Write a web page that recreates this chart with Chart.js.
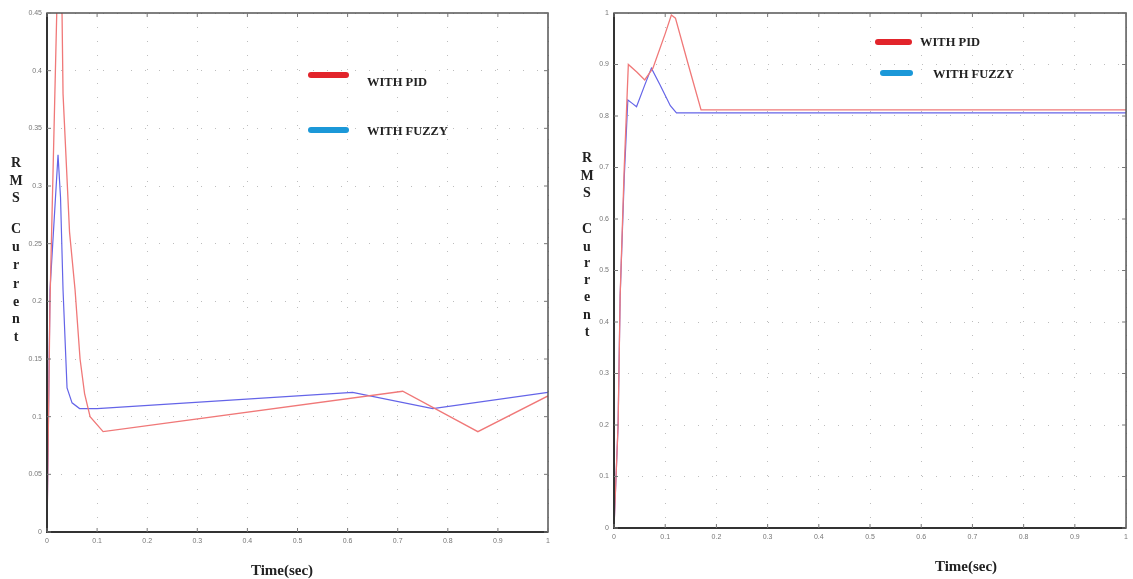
<!DOCTYPE html>
<html>
<head>
<meta charset="utf-8">
<script src="https://cdn.jsdelivr.net/npm/chart.js@4/dist/chart.umd.min.js"></script>
<style>
  html, body { margin: 0; padding: 0; background: #fff; }
  #wrap { position: relative; width: 1133px; height: 579px; }
  #leftChart { position: absolute; left: 0; top: 0; }
  #rightChart { position: absolute; left: 566px; top: 0; }
</style>
</head>
<body>
<div id="wrap">
  <canvas id="leftChart" width="566" height="579"></canvas>
  <canvas id="rightChart" width="567" height="579"></canvas>
</div>
<script>
// Shared x axis ticks
const xTicks = [0, 0.1, 0.2, 0.3, 0.4, 0.5, 0.6, 0.7, 0.8, 0.9, 1];
const xTickLabels = ['0', '0.1', '0.2', '0.3', '0.4', '0.5', '0.6', '0.7', '0.8', '0.9', '1'];

// Left chart
const leftYTicks = [0, 0.05, 0.1, 0.15, 0.2, 0.25, 0.3, 0.35, 0.4, 0.45];
const leftYTickLabels = ['0', '0.05', '0.1', '0.15', '0.2', '0.25', '0.3', '0.35', '0.4', '0.45'];
const leftPidTime = [0, 0.003, 0.006, 0.02, 0.022, 0.03, 0.032, 0.045, 0.056, 0.066, 0.075, 0.086, 0.112, 0.71, 0.86, 1];
const leftPid = [0, 0.1, 0.2, 0.46, 0.47, 0.45, 0.38, 0.26, 0.21, 0.15, 0.12, 0.1, 0.087, 0.122, 0.087, 0.118];
const leftFuzzyTime = [0, 0.003, 0.006, 0.022, 0.027, 0.032, 0.04, 0.05, 0.065, 0.1, 0.61, 0.77, 1];
const leftFuzzy = [0, 0.1, 0.21, 0.327, 0.29, 0.21, 0.125, 0.112, 0.107, 0.107, 0.121, 0.107, 0.121];

// Right chart
const rightYTicks = [0, 0.1, 0.2, 0.3, 0.4, 0.5, 0.6, 0.7, 0.8, 0.9, 1];
const rightYTickLabels = ['0', '0.1', '0.2', '0.3', '0.4', '0.5', '0.6', '0.7', '0.8', '0.9', '1'];
const rightPidTime = [0, 0.008, 0.012, 0.02, 0.028, 0.045, 0.06, 0.076, 0.1, 0.112, 0.12, 0.145, 0.17, 1];
const rightPid = [0, 0.2, 0.45, 0.7, 0.9, 0.885, 0.87, 0.893, 0.96, 0.996, 0.99, 0.9, 0.812, 0.812];
const rightFuzzyTime = [0, 0.008, 0.012, 0.02, 0.027, 0.035, 0.044, 0.06, 0.073, 0.09, 0.11, 0.122, 1];
const rightFuzzy = [0, 0.2, 0.45, 0.68, 0.831, 0.825, 0.818, 0.86, 0.893, 0.86, 0.82, 0.806, 0.806];

const seriesNames = ['WITH PID', 'WITH FUZZY'];
const yLetters = ['R', 'M', 'S', '', 'C', 'u', 'r', 'r', 'e', 'n', 't'];

const pidColor = 'rgb(240,120,120)';
const fuzzyColor = 'rgb(100,100,232)';
const pidLegend = '#e2242b';
const fuzzyLegend = '#1b98d8';

function toPoints(xs, ys) {
  return xs.map((x, i) => ({ x: x, y: ys[i] }));
}

// Extra text, legend swatches and the boxed frame with inward ticks
const annotPlugin = {
  id: 'annot',
  afterDraw(chart, args, opts) {
    const ctx = chart.ctx;
    const area = chart.chartArea;
    const xs = chart.scales.x, ys = chart.scales.y;
    ctx.save();
    // frame
    ctx.strokeStyle = '#555';
    ctx.lineWidth = 1.5;
    ctx.strokeRect(area.left, area.top, area.right - area.left, area.bottom - area.top);
    ctx.strokeStyle = '#333';
    ctx.lineWidth = 2;
    ctx.beginPath();
    ctx.moveTo(area.left, area.top);
    ctx.lineTo(area.left, area.bottom);
    ctx.lineTo(area.right, area.bottom);
    ctx.stroke();
    // inward tick marks
    ctx.strokeStyle = '#777';
    ctx.lineWidth = 1;
    ctx.beginPath();
    xs.ticks.forEach(t => {
      const px = xs.getPixelForValue(t.value);
      ctx.moveTo(px, area.bottom); ctx.lineTo(px, area.bottom - 4);
      ctx.moveTo(px, area.top); ctx.lineTo(px, area.top + 4);
    });
    ys.ticks.forEach(t => {
      const py = ys.getPixelForValue(t.value);
      ctx.moveTo(area.left, py); ctx.lineTo(area.left + 4, py);
      ctx.moveTo(area.right, py); ctx.lineTo(area.right - 4, py);
    });
    ctx.stroke();

    // stacked y label
    ctx.fillStyle = '#222';
    ctx.font = 'bold 14px "Liberation Serif"';
    ctx.textAlign = 'center';
    ctx.textBaseline = 'middle';
    yLetters.forEach((ch, i) => {
      if (ch) ctx.fillText(ch, opts.letterX, opts.letterY[i]);
    });

    // x title
    ctx.font = 'bold 15px "Liberation Serif"';
    ctx.fillText('Time(sec)', opts.titleX, opts.titleY);

    // legend
    ctx.lineCap = 'round';
    ctx.lineWidth = 6;
    ctx.textAlign = 'left';
    ctx.font = 'bold 12.5px "Liberation Serif"';
    opts.legend.forEach((item, i) => {
      ctx.strokeStyle = i === 0 ? pidLegend : fuzzyLegend;
      ctx.beginPath();
      ctx.moveTo(item.x1, item.y);
      ctx.lineTo(item.x2, item.y);
      ctx.stroke();
      ctx.fillStyle = '#222';
      ctx.fillText(seriesNames[i], item.tx, item.ty);
    });
    ctx.restore();
  }
};

function makeChart(id, pidPts, fuzzyPts, yTicks, yLabels, yWidth, xHeight, padRight, annot) {
  return new Chart(document.getElementById(id).getContext('2d'), {
    type: 'line',
    data: {
      datasets: [
        { label: seriesNames[0], data: pidPts, borderColor: pidColor, borderWidth: 1.3, pointRadius: 0, tension: 0, fill: false },
        { label: seriesNames[1], data: fuzzyPts, borderColor: fuzzyColor, borderWidth: 1.2, pointRadius: 0, tension: 0, fill: false }
      ]
    },
    options: {
      responsive: false,
      animation: false,
      layout: { padding: { top: 13, right: padRight, left: 0, bottom: 0 } },
      plugins: { legend: { display: false }, tooltip: { enabled: false }, annot: annot },
      scales: {
        x: {
          type: 'linear', min: 0, max: 1,
          afterBuildTicks: s => { s.ticks = xTicks.map(v => ({ value: v })); },
          afterFit: s => { s.height = xHeight; },
          ticks: { callback: (v, i) => xTickLabels[i], font: { size: 7 }, color: '#777', padding: 5, maxRotation: 0 },
          grid: { color: '#bdbdbd', drawTicks: false },
          border: { display: false, dash: [1, 13] }
        },
        y: {
          type: 'linear', min: yTicks[0], max: yTicks[yTicks.length - 1],
          afterBuildTicks: s => { s.ticks = yTicks.map(v => ({ value: v })); },
          afterFit: s => { s.width = yWidth; },
          ticks: { callback: (v, i) => yLabels[i], font: { size: 7 }, color: '#777', padding: 5 },
          grid: { color: '#bdbdbd', drawTicks: false },
          border: { display: false, dash: [1, 13] }
        }
      }
    },
    plugins: [annotPlugin]
  });
}

makeChart('leftChart',
  toPoints(leftPidTime, leftPid), toPoints(leftFuzzyTime, leftFuzzy),
  leftYTicks, leftYTickLabels, 47, 47, 18,
  {
    letterX: 16,
    letterY: [163, 181, 198, 0, 229, 247, 265, 284, 302, 319, 337],
    titleX: 282, titleY: 571,
    legend: [
      { x1: 311, x2: 346, y: 75, tx: 367, ty: 83 },
      { x1: 311, x2: 346, y: 130, tx: 367, ty: 132 }
    ]
  });

makeChart('rightChart',
  toPoints(rightPidTime, rightPid), toPoints(rightFuzzyTime, rightFuzzy),
  rightYTicks, rightYTickLabels, 48, 51, 3,
  {
    letterX: 21,
    letterY: [158, 176, 193, 0, 229, 247, 263, 280, 297, 315, 332],
    titleX: 400, titleY: 567,
    legend: [
      { x1: 312, x2: 343, y: 42, tx: 354, ty: 43 },
      { x1: 317, x2: 344, y: 73, tx: 367, ty: 75 }
    ]
  });
</script>
</body>
</html>
